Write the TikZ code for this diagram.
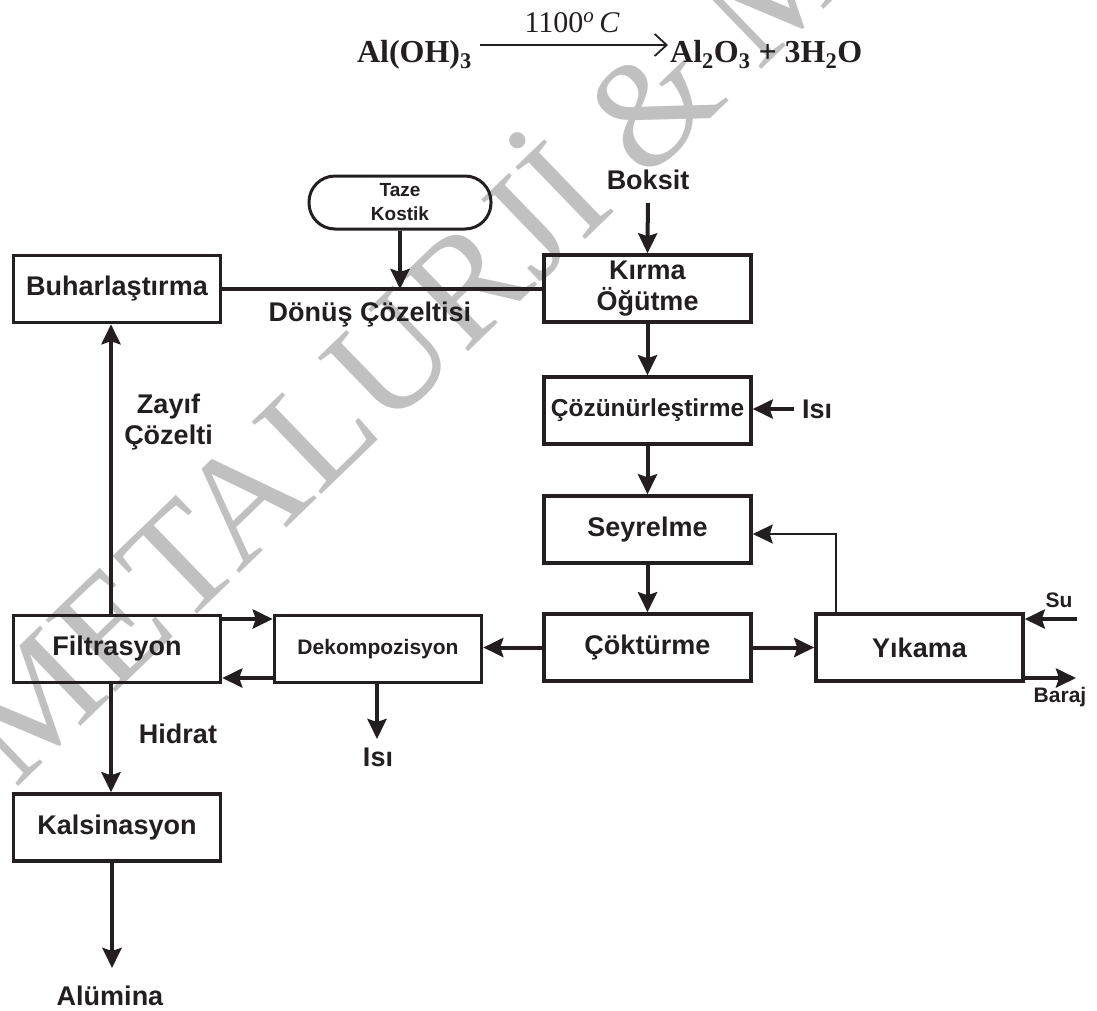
\documentclass[tikz,border=0pt]{standalone}
\usepackage{fontspec}
\setmainfont{Liberation Sans}
\newfontfamily\eqserif{Liberation Serif}
\usetikzlibrary{arrows.meta}

\definecolor{ink}{HTML}{231F20}
\definecolor{wm}{HTML}{C0C0C0}

\newcommand\labfont{\fontsize{27}{31}\selectfont\bfseries}
\newcommand\cozfont{\fontsize{24.5}{29}\selectfont\bfseries}
\newcommand\dekfont{\fontsize{21}{25}\selectfont\bfseries}
\newcommand\tazefont{\fontsize{19}{24}\selectfont\bfseries}
\newcommand\smallfont{\fontsize{21}{25}\selectfont\bfseries}
\newcommand\eqbfont{\eqserif\fontsize{32}{38}\selectfont\bfseries}
\newcommand\eqrfont{\eqserif\fontsize{30}{36}\selectfont}
\newcommand\wmfont{\eqserif\fontsize{153}{160}\selectfont}

\tikzset{
  proc/.style={draw=ink, line width=3.5pt, minimum width=207pt, minimum height=67pt,
    inner sep=0pt, font=\labfont, text=ink, align=center},
  lbl/.style={inner sep=0pt, font=\labfont, text=ink, align=center},
  flow/.style={draw=ink, line width=4pt, -{Stealth[length=20pt,width=19pt,inset=3pt]}},
  thinflow/.style={draw=ink, line width=2pt, -{Stealth[length=20pt,width=19pt,inset=3pt]}},
  plainline/.style={draw=ink, line width=4pt},
  eqarrow/.style={draw=ink, line width=1.8pt, -{Straight Barb[length=12pt,width=22pt,line width=1.8pt]}}
}

\begin{document}
\begin{tikzpicture}[x=1pt, y=-1pt]
\useasboundingbox (0,0) rectangle (1097,1010);

% background watermark
\begin{scope}
  \clip (0,0) rectangle (1097,1010);
  \node[rotate=44, anchor=base west, inner sep=0pt, text=wm, font=\wmfont] (wmk) at (15,790) {METALURJİ \& M};
\end{scope}

% reaction equation
\node[anchor=base east, inner sep=0pt, font=\eqbfont, text=ink] (lhs) at (472,62) {Al(OH)\textsubscript{3}};
\node[anchor=base west, inner sep=0pt, font=\eqbfont, text=ink] (rhs) at (670,62) {Al\textsubscript{2}O\textsubscript{3} + 3H\textsubscript{2}O};
\coordinate (eqL) at (480,45);
\coordinate (eqR) at (668,45);
\draw[eqarrow] (eqL) -- (eqR);
\node[anchor=base, inner sep=0pt, font=\eqrfont, text=ink] (temp) at (572,32) {1100\textsuperscript{\itshape o}\,{\itshape C}};

% process steps
\node[proc] (buh) at (117,289) {Buharlaştırma};
\node[proc] (kir) at (647.5,288.5) {Kırma\\Öğütme};
\node[proc, font=\cozfont] (coz) at (647.5,410.5) {Çözünürleştirme};
\node[proc] (sey) at (647.5,529.5) {Seyrelme};
\node[proc] (cok) at (647.5,647.5) {Çöktürme};
\node[proc] (yik) at (919.5,647.5) {Yıkama};
\node[proc] (fil) at (117,649) {Filtrasyon};
\node[proc, font=\dekfont] (dek) at (378,649) {Dekompozisyon};
\node[proc] (kal) at (117,827.5) {Kalsinasyon};
\node[draw=ink, line width=3pt, rounded corners=26pt, minimum width=182pt, minimum height=53pt,
  inner sep=0pt, font=\tazefont, text=ink, align=center] (taze) at (400,202.5) {Taze\\Kostik};

% stream labels
\node[lbl] (boksit) at (648,180) {Boksit};
\node[lbl] (donus) at (370,315) {Dönüş Çözeltisi};
\node[lbl] (zayif) at (168.5,422.5) {Zayıf\\Çözelti};
\node[lbl, anchor=west] (isi1) at (802,409) {Isı};
\node[lbl, font=\smallfont] (su) at (1059,600) {Su};
\node[lbl, font=\smallfont] (baraj) at (1060,697) {Baraj};
\node[lbl] (hidrat) at (178,734) {Hidrat};
\node[lbl] (isi2) at (378,757) {Isı};
\node[lbl] (alumina) at (110,996) {Alümina};

% helper coordinates
\coordinate (lx) at (111,0);
\coordinate (ret) at (836,534);
\coordinate (up) at (0,619);
\coordinate (lo) at (0,678);
\coordinate (isi2tip) at (377,739);
\coordinate (altip) at (112,968);
\coordinate (suin) at (1077,619);
\coordinate (barout) at (1076,678);

% return liquor line
\draw[plainline] (buh.east) -- (buh.east -| kir.west);
\draw[flow] (taze.south) -- (taze.south |- buh.east);

% main flow
\draw[flow, shorten <=13pt] (boksit.south) -- (kir.north);
\draw[flow] (kir.south) -- (coz.north);
\draw[flow] ([xshift=-8pt]isi1.west) -- (isi1.west -| coz.east);
\draw[flow] (coz.south) -- (sey.north);
\draw[flow] (sey.south) -- (cok.north);
\draw[flow] (cok.east) -- (yik.west);
\draw[thinflow] (yik.north -| ret) -- (ret) -- (ret -| sey.east);
\draw[flow] (suin) -- (suin -| yik.east);
\draw[flow] (barout -| yik.east) -- (barout);
\draw[flow] (cok.west) -- (cok.west -| dek.east);
\draw[flow] (fil.east |- up) -- (dek.west |- up);
\draw[flow] (dek.west |- lo) -- (fil.east |- lo);
\draw[flow] (dek.south -| isi2tip) -- (isi2tip);
\draw[flow] (fil.north -| lx) -- (buh.south -| lx);
\draw[flow] (fil.south -| lx) -- (kal.north -| lx);
\draw[flow] (kal.south -| altip) -- (altip);

\end{tikzpicture}
\end{document}
